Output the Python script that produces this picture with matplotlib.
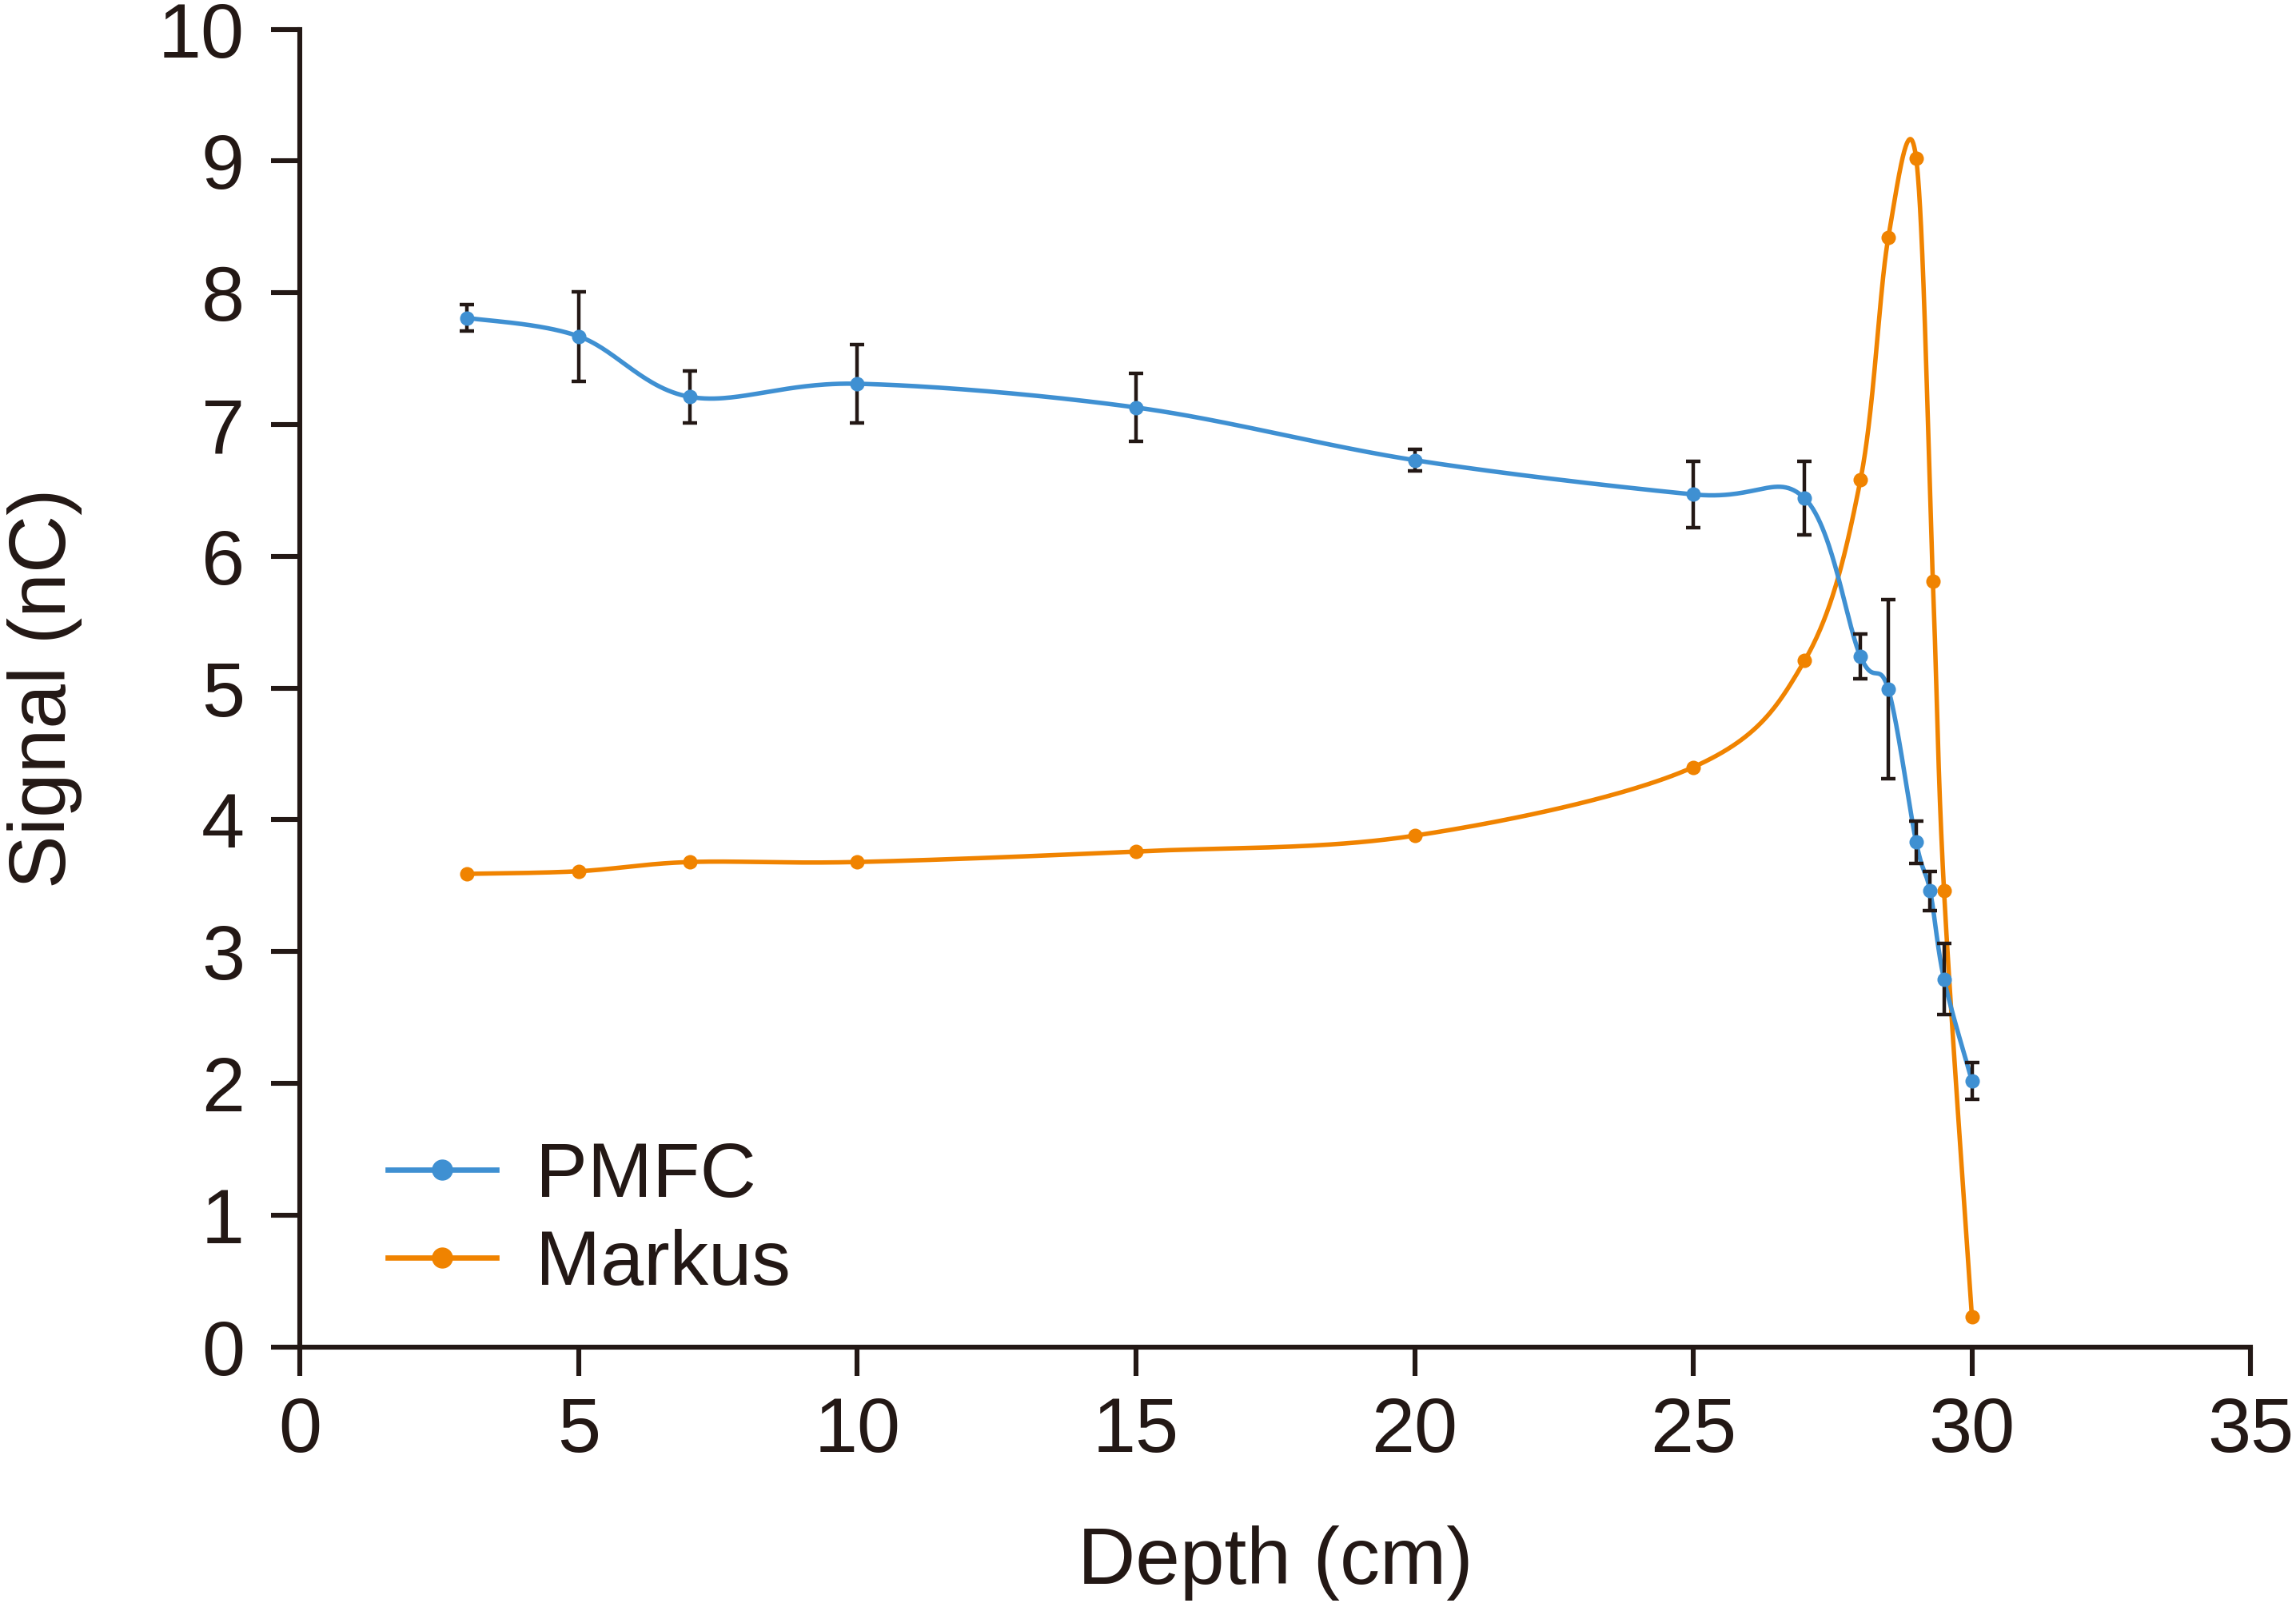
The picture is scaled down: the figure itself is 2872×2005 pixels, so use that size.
import numpy as np
import matplotlib
matplotlib.use("Agg")
import matplotlib.pyplot as plt
from matplotlib.lines import Line2D

plt.rcParams['font.family'] = ['Liberation Sans', 'DejaVu Sans']

# ---- data ----
pmfc_depth = [3, 5, 7, 10, 15, 20, 25, 27, 28, 28.5, 29, 29.25, 29.5, 30]
pmfc_signal = [7.81, 7.67, 7.21, 7.31, 7.13, 6.73, 6.47, 6.44, 5.24, 4.99, 3.83, 3.46, 2.79, 2.02]
pmfc_err = [0.10, 0.34, 0.20, 0.30, 0.26, 0.08, 0.25, 0.28, 0.17, 0.68, 0.16, 0.15, 0.27, 0.14]

markus_depth = [3, 5, 7, 10, 15, 20, 25, 27, 28, 28.5, 29, 29.3, 29.5, 30]
markus_signal = [3.59, 3.61, 3.68, 3.68, 3.76, 3.88, 4.40, 5.21, 6.58, 8.42, 9.02, 5.81, 3.46, 0.23]

x_ticks = [0, 5, 10, 15, 20, 25, 30, 35]
y_ticks = [0, 1, 2, 3, 4, 5, 6, 7, 8, 9, 10]

BLUE = '#3f90d2'
ORANGE = '#f08300'
INK = '#231815'


def smooth(xs, ys, n=60):
    """Excel-like smoothed line (Catmull-Rom / cubic Bezier through points)."""
    P = np.column_stack([xs, ys]).astype(float)
    out = []
    m = len(P)
    for i in range(m - 1):
        p0 = P[i - 1] if i > 0 else P[i]
        p1 = P[i]
        p2 = P[i + 1]
        p3 = P[i + 2] if i + 2 < m else P[i + 1]
        c1 = p1 + (p2 - p0) / 6.0
        c2 = p2 - (p3 - p1) / 6.0
        t = np.linspace(0, 1, n)[:, None]
        seg = ((1 - t) ** 3) * p1 + 3 * ((1 - t) ** 2) * t * c1 + 3 * (1 - t) * t ** 2 * c2 + t ** 3 * p2
        out.append(seg if i == 0 else seg[1:])
    arr = np.vstack(out)
    return arr[:, 0], arr[:, 1]


fig = plt.figure(figsize=(14.36, 10.025), dpi=200)
ax = fig.add_axes([0.1307, 0.1598, 0.8495, 0.8219])

lw = 2.0
ms = 5.5

sx, sy = smooth(markus_depth, markus_signal)
ax.plot(sx, sy, color=ORANGE, lw=lw, zorder=2)
ax.plot(markus_depth, markus_signal, 'o', color=ORANGE, ms=ms, zorder=3)

bx, by = smooth(pmfc_depth, pmfc_signal)
ax.plot(bx, by, color=BLUE, lw=lw, zorder=4)
ax.errorbar(pmfc_depth, pmfc_signal, yerr=pmfc_err, fmt='none', ecolor=INK,
            elinewidth=1.6, capsize=3.2, capthick=1.6, zorder=5)
ax.plot(pmfc_depth, pmfc_signal, 'o', color=BLUE, ms=ms, zorder=6)

ax.set_xlim(0, 35)
ax.set_ylim(0, 10)
ax.set_xticks(x_ticks)
ax.set_yticks(y_ticks)
ax.set_xticklabels([str(v) for v in x_ticks])
ax.set_yticklabels([str(v) for v in y_ticks])

for s in ['top', 'right']:
    ax.spines[s].set_visible(False)
for s in ['left', 'bottom']:
    ax.spines[s].set_color(INK)
    ax.spines[s].set_linewidth(2.2)
ax.tick_params(axis='both', direction='out', length=13, width=2.2, colors=INK,
               labelsize=35, labelcolor=INK)
ax.tick_params(axis='x', pad=9)
ax.tick_params(axis='y', pad=12)

ax.set_xlabel('Depth (cm)', fontsize=36, color=INK, labelpad=26)
ax.set_ylabel('Signal (nC)', fontsize=36, color=INK, labelpad=34)

handles = [Line2D([], [], color=BLUE, lw=2.4, marker='o', ms=8.5),
           Line2D([], [], color=ORANGE, lw=2.4, marker='o', ms=8.5)]
ax.legend(handles, ['PMFC', 'Markus'], loc='lower left', bbox_to_anchor=(0.045, 0.035),
          frameon=False, fontsize=35, handlelength=1.4, handletextpad=0.5,
          labelspacing=0.2, borderpad=0, borderaxespad=0, labelcolor=INK)

fig.savefig('out.png', dpi=200)
